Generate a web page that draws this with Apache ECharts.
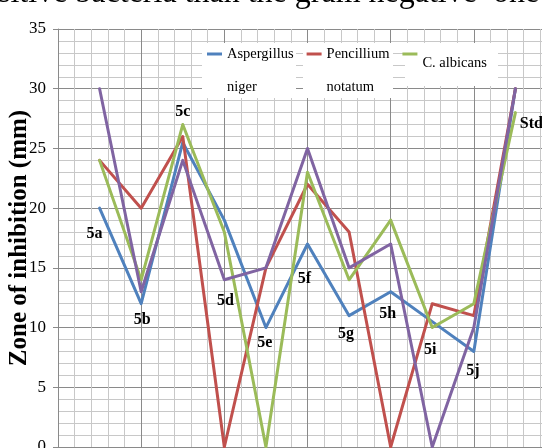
<!DOCTYPE html>
<html>
<head>
<meta charset="utf-8">
<script src="https://cdn.jsdelivr.net/npm/echarts@6/dist/echarts.min.js"></script>
<style>
  html, body { margin: 0; padding: 0; background: #fff; }
  #chart { width: 542px; height: 448px; }
</style>
</head>
<body>
<div id="chart"></div>
<script>
// Compounds tested and the zone of inhibition (mm) measured for each organism
const categories = ['5a', '5b', '5c', '5d', '5e', '5f', '5g', '5h', '5i', '5j', 'Std'];
const aspergillusNiger = [20, 12, 25.5, 19, 10, 17, 11, 13, 10.5, 8, 30];
const pencilliumNotatum = [24, 20, 26, 0, 15, 22, 18, 0, 12, 11, 30];
const cAlbicans = [24, 14, 27, 18, 0, 23, 14, 19, 10, 12, 28];
const series4 = [30, 13, 24, 14, 15, 25, 15, 17, 0, 10, 30];

// y axis range and step
const yMin = 0, yMax = 35, yStep = 5;

const serif = '"Liberation Serif", "Times New Roman", serif';
const colors = { blue: '#4F81BD', red: '#C0504D', green: '#9BBB59', purple: '#8064A2' };

// pixel offsets of each compound label from its Aspergillus point
const labelOffsets = [[-5, 26], [1, 16], [0, -31], [1, 81], [-1, 15], [-3, 35], [-3, 18], [-3, 22], [-2, 28], [-1, 19], [16, 35]];

// legend entries that wrap onto two lines
const wrapped = { 'Aspergillus niger': 'Aspergillus\nniger', 'Pencillium notatum': 'Pencillium\nnotatum' };

const toPoints = vals => vals.map((v, i) => [i + 1, v]);

function lineSeries(name, vals, color) {
  return {
    type: 'line',
    name: name,
    data: toPoints(vals),
    symbol: 'none',
    lineStyle: { color: color, width: 3, cap: 'round', join: 'round' },
    itemStyle: { color: color },
    animation: false
  };
}

const blue = lineSeries('Aspergillus niger', aspergillusNiger, colors.blue);
blue.symbol = 'circle';
blue.symbolSize = 0;
blue.showSymbol = true;
blue.data = aspergillusNiger.map((v, i) => ({
  value: [i + 1, v],
  label: { offset: labelOffsets[i] }
}));
blue.label = {
  show: true,
  position: 'inside',
  formatter: p => categories[p.dataIndex],
  fontFamily: serif,
  fontWeight: 'bold',
  fontSize: 16,
  color: '#000'
};

const gridMajor = { color: '#8a8a8a', width: 1 };
const gridMinor = { color: '#c8c8c8', width: 1 };

const chart = echarts.init(document.getElementById('chart'), null, { renderer: 'canvas' });

chart.setOption({
  animation: false,
  backgroundColor: '#fff',
  grid: { left: 58, top: 29, right: -15, bottom: 1, containLabel: false, outerBoundsMode: 'none' },
  xAxis: {
    type: 'value',
    min: 0,
    max: 12,
    interval: 2,
    axisLabel: { show: false },
    axisTick: { show: false },
    axisLine: { show: true, lineStyle: { color: '#8a8a8a' } },
    splitLine: { show: true, lineStyle: gridMajor },
    minorTick: { show: false, splitNumber: 5 },
    minorSplitLine: { show: true, lineStyle: gridMinor }
  },
  yAxis: {
    type: 'value',
    min: yMin,
    max: yMax,
    interval: yStep,
    axisLine: { show: true, lineStyle: { color: '#8a8a8a' } },
    axisTick: { show: true, inside: false, length: 5, lineStyle: { color: '#8a8a8a' } },
    axisLabel: { fontFamily: serif, fontSize: 17, color: '#000', margin: 12 },
    splitLine: { show: true, lineStyle: gridMajor },
    minorTick: { show: false, splitNumber: 5 },
    minorSplitLine: { show: true, lineStyle: gridMinor },
    name: 'Zone of inhibition (mm)',
    nameLocation: 'middle',
    nameGap: 26,
    nameMoveOverlap: false,
    nameTextStyle: { fontFamily: serif, fontWeight: 'bold', fontSize: 25, color: '#000' }
  },
  legend: {
    left: 207,
    top: 4.5,
    padding: 0,
    itemGap: 13,
    itemWidth: 15,
    itemHeight: 3,
    icon: 'rect',
    selectedMode: false,
    textStyle: { fontFamily: serif, fontSize: 14.5, color: '#000', lineHeight: 33 },
    data: [
      { name: 'Aspergillus niger', itemStyle: { color: colors.blue } },
      { name: 'Pencillium notatum', itemStyle: { color: colors.red } },
      { name: 'C. albicans', itemStyle: { color: colors.green }, textStyle: { lineHeight: 18 } }
    ],
    formatter: name => '\n' + (wrapped[name] || name)
  },
  graphic: [
    { type: 'rect', z: 3, shape: { x: 202, y: 43, width: 94, height: 55 }, style: { fill: '#ffffff' } },
    { type: 'rect', z: 3, shape: { x: 303, y: 43, width: 90, height: 55 }, style: { fill: '#ffffff' } },
    { type: 'rect', z: 3, shape: { x: 405, y: 43, width: 93, height: 43 }, style: { fill: '#ffffff' } },
    {
      type: 'text', z: 5, x: -2, y: -6.5,
      style: {
        text: 'sitive bacteria than the gram negative  one',
        font: '32px "Liberation Serif", serif',
        fill: '#000',
        verticalAlign: 'middle'
      }
    }
  ],
  series: [
    blue,
    lineSeries('Pencillium notatum', pencilliumNotatum, colors.red),
    lineSeries('C. albicans', cAlbicans, colors.green),
    lineSeries('Series4', series4, colors.purple)
  ]
});
</script>
</body>
</html>
